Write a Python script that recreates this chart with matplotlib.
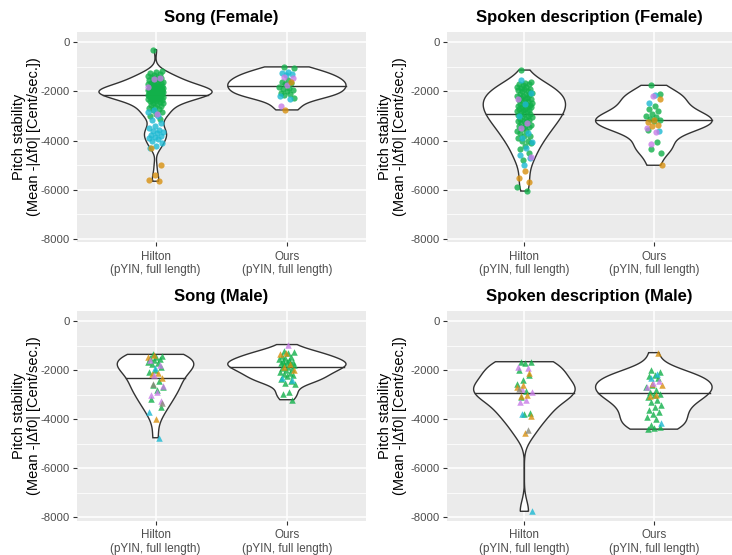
import numpy as np
import matplotlib
matplotlib.use("Agg")
import matplotlib.pyplot as plt

plt.rcParams['font.family'] = ['Liberation Sans', 'DejaVu Sans']

# ---------------- data (Pitch stability, Cent/sec) ----------------
categories = ["Hilton\n(pYIN, full length)", "Ours\n(pYIN, full length)"]
titles = ["Song (Female)", "Spoken description (Female)", "Song (Male)", "Spoken description (Male)"]
y_ticks = [0, -2000, -4000, -6000, -8000]

# Song (Female) - Hilton
sf_hilton_green = [-300, -1150, -1200, -1250, -1300, -1330, -1360, -1400, -1430, -1460, -1490, -1520,
                   -1550, -1580, -1600, -1620, -1640, -1660, -1680, -1700, -1720, -1740, -1760, -1780,
                   -1800, -1810, -1830, -1850, -1850, -1860, -1880, -1880, -1900, -1900, -1910, -1920,
                   -1930, -1940, -1950, -1950, -1960, -1970, -1980, -1990, -2000, -2000, -2010, -2020,
                   -2020, -2030, -2040, -2050, -2060, -2070, -2070, -2080, -2090, -2100, -2110, -2120,
                   -2130, -2140, -2150, -2160, -2180, -2200, -2200, -2220, -2230, -2240, -2250, -2260,
                   -2270, -2290, -2300, -2310, -2330, -2350, -2380, -2400, -2420, -2450, -2480, -2510,
                   -2540, -2580, -2620, -2660, -2700, -2760, -2820, -2900, -3000, -3100]
sf_hilton_cyan = [-2750, -2850, -3000, -3150, -3300, -3400, -3500, -3550, -3600, -3650, -3700, -3750,
                  -3800, -3850, -3900, -3950, -4000, -4100, -4200, -4300]
sf_hilton_purple = [-1450, -1480, -1800, -2900]
sf_hilton_orange = [-4300, -5000, -5400, -5600, -5650]
# Song (Female) - Ours
sf_ours_green = [-1000, -1050, -1550, -1600, -1650, -1700, -1800, -1850, -1900, -1950, -2000, -2050,
                 -2100, -2150, -2250]
sf_ours_cyan = [-1200, -1250, -1300, -1350, -2200, -2300]
sf_ours_purple = [-1400, -1450, -1750, -2600]
sf_ours_orange = [-1600, -2750]

# Spoken description (Female) - Hilton
pf_hilton_green = [-1130, -1600, -1650, -1700, -1700, -1750, -1800, -1800, -1850, -1900, -1900, -1950,
                   -2000, -2000, -2050, -2100, -2100, -2150, -2200, -2200, -2250, -2250, -2300, -2300,
                   -2350, -2400, -2400, -2450, -2500, -2500, -2550, -2550, -2600, -2600, -2650, -2650,
                   -2700, -2700, -2750, -2750, -2800, -2800, -2850, -2900, -2900, -2950, -3000, -3000,
                   -3050, -3100, -3100, -3150, -3200, -3200, -3250, -3300, -3350, -3400, -3400, -3450,
                   -3500, -3600, -3600, -3700, -3800, -3800, -3900, -4000, -4000, -4100, -4200, -4350,
                   -4500, -4800, -5900, -6050]
pf_hilton_cyan = [-1550, -2050, -2500, -3000, -3700, -3900, -4050, -4300, -4600, -4700, -5000]
pf_hilton_purple = [-2300, -3300, -3500, -4650]
pf_hilton_orange = [-5250, -5500, -5700]
# Spoken description (Female) - Ours
pf_ours_green = [-1750, -2100, -2600, -2700, -2800, -2900, -3000, -3050, -3100, -3150, -3200, -3550,
                 -4050, -4350, -4500]
pf_ours_cyan = [-2150, -2450, -3600]
pf_ours_purple = [-2200, -3500, -3650, -4150]
pf_ours_orange = [-2300, -3150, -3250, -3350, -3400, -5000]

# Song (Male) - Hilton
sm_hilton_green = [-1350, -1400, -1450, -1500, -1550, -1600, -1650, -1700, -1750, -1850, -2000, -2050,
                   -2450, -2600, -2700, -2800, -3150, -3500]
sm_hilton_orange = [-1380, -1450, -2100, -2150, -2300, -4000]
sm_hilton_purple = [-1600, -1800, -2200, -2650, -2900, -3000, -3250]
sm_hilton_cyan = [-1900, -3700, -4750]
sm_hilton_grey = [-2550, -3350]
# Song (Male) - Ours
sm_ours_green = [-1200, -1250, -1300, -1400, -1450, -1500, -1550, -1600, -1620, -1650, -1680, -1700,
                 -1720, -1750, -1800, -1850, -1900, -1950, -2000, -2050, -2100, -2150, -2200, -2250,
                 -2350, -2450, -2500, -2550, -2900, -2950, -3200]
sm_ours_orange = [-1300, -1350, -1750, -1850, -2000]
sm_ours_purple = [-950]
sm_ours_cyan = [-2300, -2400]

# Spoken description (Male) - Hilton
pm_hilton_green = [-1650, -1680, -1700, -2000, -2200, -2400, -2550, -2850, -3100, -3750, -3800]
pm_hilton_purple = [-1850, -1900, -2750, -2900, -3200, -3300]
pm_hilton_orange = [-2100, -2600, -2700, -3000, -3050, -3850, -4550]
pm_hilton_grey = [-2750, -4450]
pm_hilton_cyan = [-3800, -7750]
# Spoken description (Male) - Ours
pm_ours_green = [-2000, -2050, -2200, -2250, -2300, -2600, -2700, -2800, -2900, -2950, -3000, -3100,
                 -3200, -3300, -3400, -3500, -3600, -3700, -3800, -3900, -4000, -4250, -4300, -4350,
                 -4400]
pm_ours_orange = [-1280, -2550, -2600, -3000, -3050]
pm_ours_purple = [-2450, -2500, -2700]
pm_ours_cyan = [-2150, -2300, -4150]

# ---------------- style ----------------
COL = {"green": "#12B04A", "cyan": "#1CB8D2", "purple": "#C77CE6",
       "orange": "#D8900F", "grey": "#8A8A7A"}

panels = [
    ("o", [dict(green=sf_hilton_green, cyan=sf_hilton_cyan, purple=sf_hilton_purple, orange=sf_hilton_orange),
           dict(green=sf_ours_green, cyan=sf_ours_cyan, purple=sf_ours_purple, orange=sf_ours_orange)]),
    ("o", [dict(green=pf_hilton_green, cyan=pf_hilton_cyan, purple=pf_hilton_purple, orange=pf_hilton_orange),
           dict(green=pf_ours_green, cyan=pf_ours_cyan, purple=pf_ours_purple, orange=pf_ours_orange)]),
    ("^", [dict(green=sm_hilton_green, orange=sm_hilton_orange, purple=sm_hilton_purple, cyan=sm_hilton_cyan, grey=sm_hilton_grey),
           dict(green=sm_ours_green, orange=sm_ours_orange, purple=sm_ours_purple, cyan=sm_ours_cyan)]),
    ("^", [dict(green=pm_hilton_green, purple=pm_hilton_purple, orange=pm_hilton_orange, grey=pm_hilton_grey, cyan=pm_hilton_cyan),
           dict(green=pm_ours_green, orange=pm_ours_orange, purple=pm_ours_purple, cyan=pm_ours_cyan)]),
]


def kde(vals):
    v = np.asarray(vals, float)
    n = len(v)
    sd = v.std(ddof=1)
    q75, q25 = np.percentile(v, [75, 25])
    lo = min(sd, (q75 - q25) / 1.34)
    if lo <= 0:
        lo = sd
    bw = 0.9 * lo * n ** -0.2
    ys = np.linspace(v.min(), v.max(), 512)
    d = np.exp(-0.5 * ((ys[:, None] - v[None, :]) / bw) ** 2).sum(1) / (n * bw * np.sqrt(2 * np.pi))
    return ys, d


W, H = 732, 555
fig = plt.figure(figsize=(W / 100, H / 100), dpi=100)

boxes = [(76.7, 31.7, 365.7, 242.3), (446.7, 31.7, 731.5, 242.3),
         (76.7, 310.7, 365.7, 520.7), (446.7, 310.7, 731.5, 520.7)]
ylab_x = [26.5, 392.5, 26.5, 392.5]

for pi, ((marker, groups), box, title) in enumerate(zip(panels, boxes, titles)):
    x0, y0, x1, y1 = box
    ax = fig.add_axes([x0 / W, 1 - y1 / H, (x1 - x0) / W, (y1 - y0) / H])
    ax.set_facecolor("#EBEBEB")
    for s in ax.spines.values():
        s.set_visible(False)
    ax.set_xlim(0.4, 2.6)
    ax.set_ylim(-8134, 431)
    ax.set_xticks([1, 2])
    ax.set_xticklabels(categories, fontsize=8.4, color="#4D4D4D", linespacing=1.2)
    ax.set_yticks(y_ticks)
    ax.set_yticklabels([str(t) for t in y_ticks], fontsize=8.2, color="#4D4D4D")
    ax.set_yticks([-1000, -3000, -5000, -7000], minor=True)
    ax.tick_params(axis="y", which="minor", length=0)
    ax.tick_params(which="major", length=3, width=0.8, color="#333333", pad=2)
    ax.tick_params(axis="x", pad=3)
    ax.grid(which="major", color="white", lw=1.1)
    ax.grid(which="minor", axis="y", color="white", lw=0.55)
    ax.set_axisbelow(True)
    ax.set_title(title, fontsize=12, fontweight="bold", pad=7)

    dens = []
    for g in groups:
        allv = np.concatenate([np.asarray(v, float) for v in g.values()])
        dens.append(kde(allv))
    dmax = max(d.max() for _, d in dens)
    for xi, ((ys, d), g) in enumerate(zip(dens, groups), start=1):
        hw = d / dmax * 0.45
        px = np.concatenate([xi - hw, (xi + hw)[::-1]])
        py = np.concatenate([ys, ys[::-1]])
        ax.fill(px, py, facecolor="white", edgecolor="#333333", lw=1.0, zorder=2)
        cdf = np.cumsum(d)
        cdf = cdf / cdf[-1]
        med = np.interp(0.5, cdf, ys)
        mw = np.interp(med, ys, hw)
        ax.plot([xi - mw, xi + mw], [med, med], color="#333333", lw=1.0, zorder=2.5)
        k = 0
        for cname, vals in g.items():
            vals = np.asarray(vals, float)
            offs = np.array([((k + j) * 0.6180339887 + 0.31) % 1.0 - 0.5 for j in range(len(vals))]) * 0.12
            k += len(vals)
            ax.scatter(xi + offs, vals, s=20 if marker == "o" else 22, marker=marker,
                       color=COL[cname], alpha=0.8, lw=0, zorder=3)

    fig.text(ylab_x[pi] / W, 1 - ((y0 + y1) / 2) / H,
             "Pitch stability\n(Mean -|Δf0| [Cent/sec.])", rotation=90,
             ha="center", va="center", fontsize=10.5, linespacing=1.05, multialignment="center")

fig.savefig("out.png", dpi=100)
